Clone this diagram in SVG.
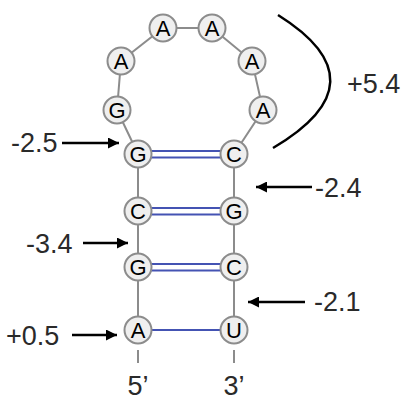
<svg xmlns="http://www.w3.org/2000/svg" width="404" height="400" viewBox="0 0 404 400">
<defs>
<style>
.bb{stroke:#8c8c8c;stroke-width:2;fill:none}
.nt circle{fill:#efefef;stroke:#8c8c8c;stroke-width:2}
.nt text{font-family:"Liberation Sans",Arial,sans-serif;font-size:22px;fill:#000;text-anchor:middle}
.bp{stroke:#4453b3;stroke-width:2.2;fill:none}
.ar{stroke:#000;stroke-width:2.5;fill:none}
.lb{font-family:"Liberation Sans",Arial,sans-serif;font-size:27px;fill:#2a2a2a}
</style>
<marker id="ah" viewBox="0 0 10 10" refX="10" refY="5" markerWidth="5" markerHeight="4.4" markerUnits="strokeWidth" orient="auto">
<path d="M0,0 L10,5 L0,10 z" fill="#000"/>
</marker>
</defs>
<g id="connectors">
<polyline class="bb" points="138,154 117,110 121,61 163,28 212,28 252,61 263,110 234,154"/>
<line class="bb" x1="138" y1="154" x2="138" y2="330"/>
<line class="bb" x1="234" y1="154" x2="234" y2="330"/>
<line class="bb" x1="138" y1="350" x2="138" y2="363"/>
<line class="bb" x1="234" y1="350" x2="234" y2="363"/>
<line class="bp" x1="151" y1="151" x2="221" y2="151"/>
<line class="bp" x1="151" y1="157.5" x2="221" y2="157.5"/>
<line class="bp" x1="151" y1="208" x2="221" y2="208"/>
<line class="bp" x1="151" y1="214.5" x2="221" y2="214.5"/>
<line class="bp" x1="151" y1="264" x2="221" y2="264"/>
<line class="bp" x1="151" y1="270.5" x2="221" y2="270.5"/>
<line class="bp" x1="151" y1="330" x2="221" y2="330"/>
<line class="ar" x1="62" y1="143" x2="119" y2="143" marker-end="url(#ah)"/>
<line class="ar" x1="83" y1="243" x2="128" y2="243" marker-end="url(#ah)"/>
<line class="ar" x1="72" y1="335" x2="117" y2="335" marker-end="url(#ah)"/>
<line class="ar" x1="312" y1="187" x2="256" y2="187" marker-end="url(#ah)"/>
<line class="ar" x1="305" y1="302" x2="248" y2="302" marker-end="url(#ah)"/>
<path class="ar" d="M278,15 Q385,82 273,148"/>
</g>
<g id="n1" class="nt"><circle cx="138" cy="154" r="13.5"/><text x="138" y="162">G</text></g>
<g id="n2" class="nt"><circle cx="117" cy="110" r="13.5"/><text x="117" y="118">G</text></g>
<g id="n3" class="nt"><circle cx="121" cy="61" r="13.5"/><text x="121" y="69">A</text></g>
<g id="n4" class="nt"><circle cx="163" cy="28" r="13.5"/><text x="163" y="36">A</text></g>
<g id="n5" class="nt"><circle cx="212" cy="28" r="13.5"/><text x="212" y="36">A</text></g>
<g id="n6" class="nt"><circle cx="252" cy="61" r="13.5"/><text x="252" y="69">A</text></g>
<g id="n7" class="nt"><circle cx="263" cy="110" r="13.5"/><text x="263" y="118">A</text></g>
<g id="n8" class="nt"><circle cx="234" cy="154" r="13.5"/><text x="234" y="162">C</text></g>
<g id="n9" class="nt"><circle cx="138" cy="211" r="13.5"/><text x="138" y="219">C</text></g>
<g id="n10" class="nt"><circle cx="234" cy="211" r="13.5"/><text x="234" y="219">G</text></g>
<g id="n11" class="nt"><circle cx="138" cy="267" r="13.5"/><text x="138" y="275">G</text></g>
<g id="n12" class="nt"><circle cx="234" cy="267" r="13.5"/><text x="234" y="275">C</text></g>
<g id="n13" class="nt"><circle cx="138" cy="330" r="13.5"/><text x="138" y="338">A</text></g>
<g id="n14" class="nt"><circle cx="234" cy="330" r="13.5"/><text x="234" y="338">U</text></g>
<g id="labels">
<text class="lb" x="11" y="152">-2.5</text>
<text class="lb" x="26" y="253">-3.4</text>
<text class="lb" x="6" y="345">+0.5</text>
<text class="lb" x="315" y="197">-2.4</text>
<text class="lb" x="314" y="311">-2.1</text>
<text class="lb" x="347" y="93">+5.4</text>
<text class="lb" x="138" y="395" text-anchor="middle" font-size="23">5’</text>
<text class="lb" x="234" y="395" text-anchor="middle" font-size="23">3’</text>
</g>
</svg>
